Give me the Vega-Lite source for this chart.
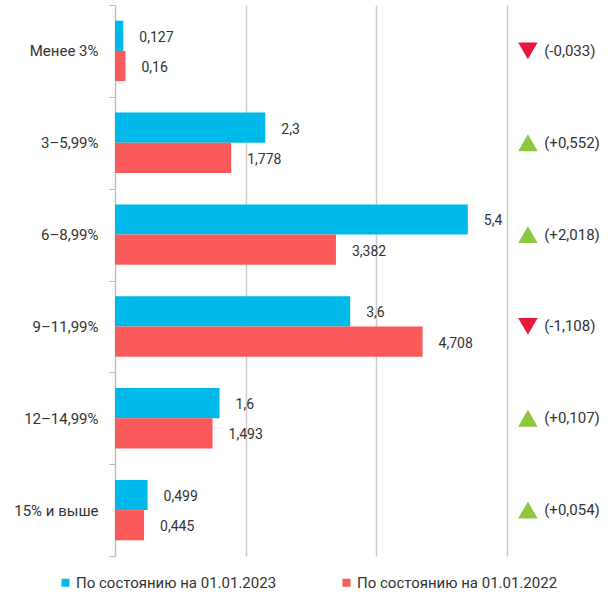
{
  "$schema": "https://vega.github.io/schema/vega-lite/v6.json",
  "width": 392,
  "height": 551,
  "autosize": {"type": "none"},
  "padding": {"left": 115, "top": 5, "right": 104, "bottom": 38},
  "config": {"view": {"stroke": null}, "font": "Roboto"},
  "datasets": {
    "bars": [
      {"category": "Менее 3%", "series": "По состоянию на 01.01.2023", "value": 0.127, "label": "0,127"},
      {"category": "Менее 3%", "series": "По состоянию на 01.01.2022", "value": 0.16, "label": "0,16"},
      {"category": "3–5,99%", "series": "По состоянию на 01.01.2023", "value": 2.3, "label": "2,3"},
      {"category": "3–5,99%", "series": "По состоянию на 01.01.2022", "value": 1.778, "label": "1,778"},
      {"category": "6–8,99%", "series": "По состоянию на 01.01.2023", "value": 5.4, "label": "5,4"},
      {"category": "6–8,99%", "series": "По состоянию на 01.01.2022", "value": 3.382, "label": "3,382"},
      {"category": "9–11,99%", "series": "По состоянию на 01.01.2023", "value": 3.6, "label": "3,6"},
      {"category": "9–11,99%", "series": "По состоянию на 01.01.2022", "value": 4.708, "label": "4,708"},
      {"category": "12–14,99%", "series": "По состоянию на 01.01.2023", "value": 1.6, "label": "1,6"},
      {"category": "12–14,99%", "series": "По состоянию на 01.01.2022", "value": 1.493, "label": "1,493"},
      {"category": "15% и выше", "series": "По состоянию на 01.01.2023", "value": 0.499, "label": "0,499"},
      {"category": "15% и выше", "series": "По состоянию на 01.01.2022", "value": 0.445, "label": "0,445"}
    ],
    "delta": [
      {"category": "Менее 3%", "direction": "down", "label": "(-0,033)"},
      {"category": "3–5,99%", "direction": "up", "label": "(+0,552)"},
      {"category": "6–8,99%", "direction": "up", "label": "(+2,018)"},
      {"category": "9–11,99%", "direction": "down", "label": "(-1,108)"},
      {"category": "12–14,99%", "direction": "up", "label": "(+0,107)"},
      {"category": "15% и выше", "direction": "up", "label": "(+0,054)"}
    ]
  },
  "layer": [
    {
      "data": {"name": "bars"},
      "mark": {"type": "bar"},
      "encoding": {
        "y": {
          "field": "category", "type": "nominal",
          "sort": ["Менее 3%", "3–5,99%", "6–8,99%", "9–11,99%", "12–14,99%", "15% и выше"],
          "scale": {"paddingInner": 0, "paddingOuter": 0},
          "axis": {"title": null, "labelFontSize": 15, "labelColor": "#333333", "tickBand": "extent", "tickSize": 6, "domainColor": "#bbbbbb", "tickColor": "#bbbbbb", "labelPadding": 11, "grid": false}
        },
        "yOffset": {
          "field": "series", "type": "nominal",
          "sort": ["По состоянию на 01.01.2023", "По состоянию на 01.01.2022"],
          "scale": {"paddingInner": 0, "paddingOuter": 0.52}
        },
        "x": {
          "field": "value", "type": "quantitative",
          "scale": {"domain": [0, 6], "nice": false},
          "axis": {"values": [0, 2, 4, 6], "labels": false, "ticks": false, "domain": false, "grid": true, "gridColor": "#cccccc", "gridWidth": 1.5, "title": null}
        },
        "color": {
          "field": "series", "type": "nominal",
          "scale": {"domain": ["По состоянию на 01.01.2023", "По состоянию на 01.01.2022"], "range": ["#00b9eb", "#fa5a5a"]},
          "legend": {"orient": "none", "direction": "horizontal", "legendX": -57, "legendY": 570, "title": null, "symbolType": "square", "symbolSize": 64, "symbolStrokeWidth": 0, "labelFontSize": 15, "labelColor": "#333333", "labelOffset": 3, "columnPadding": 62, "labelLimit": 300}
        }
      }
    },
    {
      "data": {"name": "bars"},
      "mark": {"type": "text", "align": "left", "baseline": "middle", "dx": 16, "dy": 2, "fontSize": 14, "color": "#333333"},
      "encoding": {
        "y": {"field": "category", "type": "nominal", "sort": ["Менее 3%", "3–5,99%", "6–8,99%", "9–11,99%", "12–14,99%", "15% и выше"]},
        "yOffset": {"field": "series", "type": "nominal", "sort": ["По состоянию на 01.01.2023", "По состоянию на 01.01.2022"]},
        "x": {"field": "value", "type": "quantitative"},
        "text": {"field": "label"}
      }
    },
    {
      "data": {"name": "delta"},
      "mark": {"type": "point", "filled": true, "size": 380, "opacity": 1},
      "encoding": {
        "y": {"field": "category", "type": "nominal", "sort": ["Менее 3%", "3–5,99%", "6–8,99%", "9–11,99%", "12–14,99%", "15% и выше"]},
        "x": {"datum": 6.32},
        "shape": {"field": "direction", "type": "nominal", "scale": {"domain": ["down", "up"], "range": ["triangle-down", "triangle-up"]}, "legend": null},
        "fill": {"field": "direction", "type": "nominal", "scale": {"domain": ["down", "up"], "range": ["#e8173c", "#8dc63f"]}, "legend": null}
      }
    },
    {
      "data": {"name": "delta"},
      "mark": {"type": "text", "align": "left", "baseline": "middle", "fontSize": 15, "color": "#333333"},
      "encoding": {
        "y": {"field": "category", "type": "nominal", "sort": ["Менее 3%", "3–5,99%", "6–8,99%", "9–11,99%", "12–14,99%", "15% и выше"]},
        "x": {"datum": 6.57},
        "text": {"field": "label"}
      }
    }
  ]
}
